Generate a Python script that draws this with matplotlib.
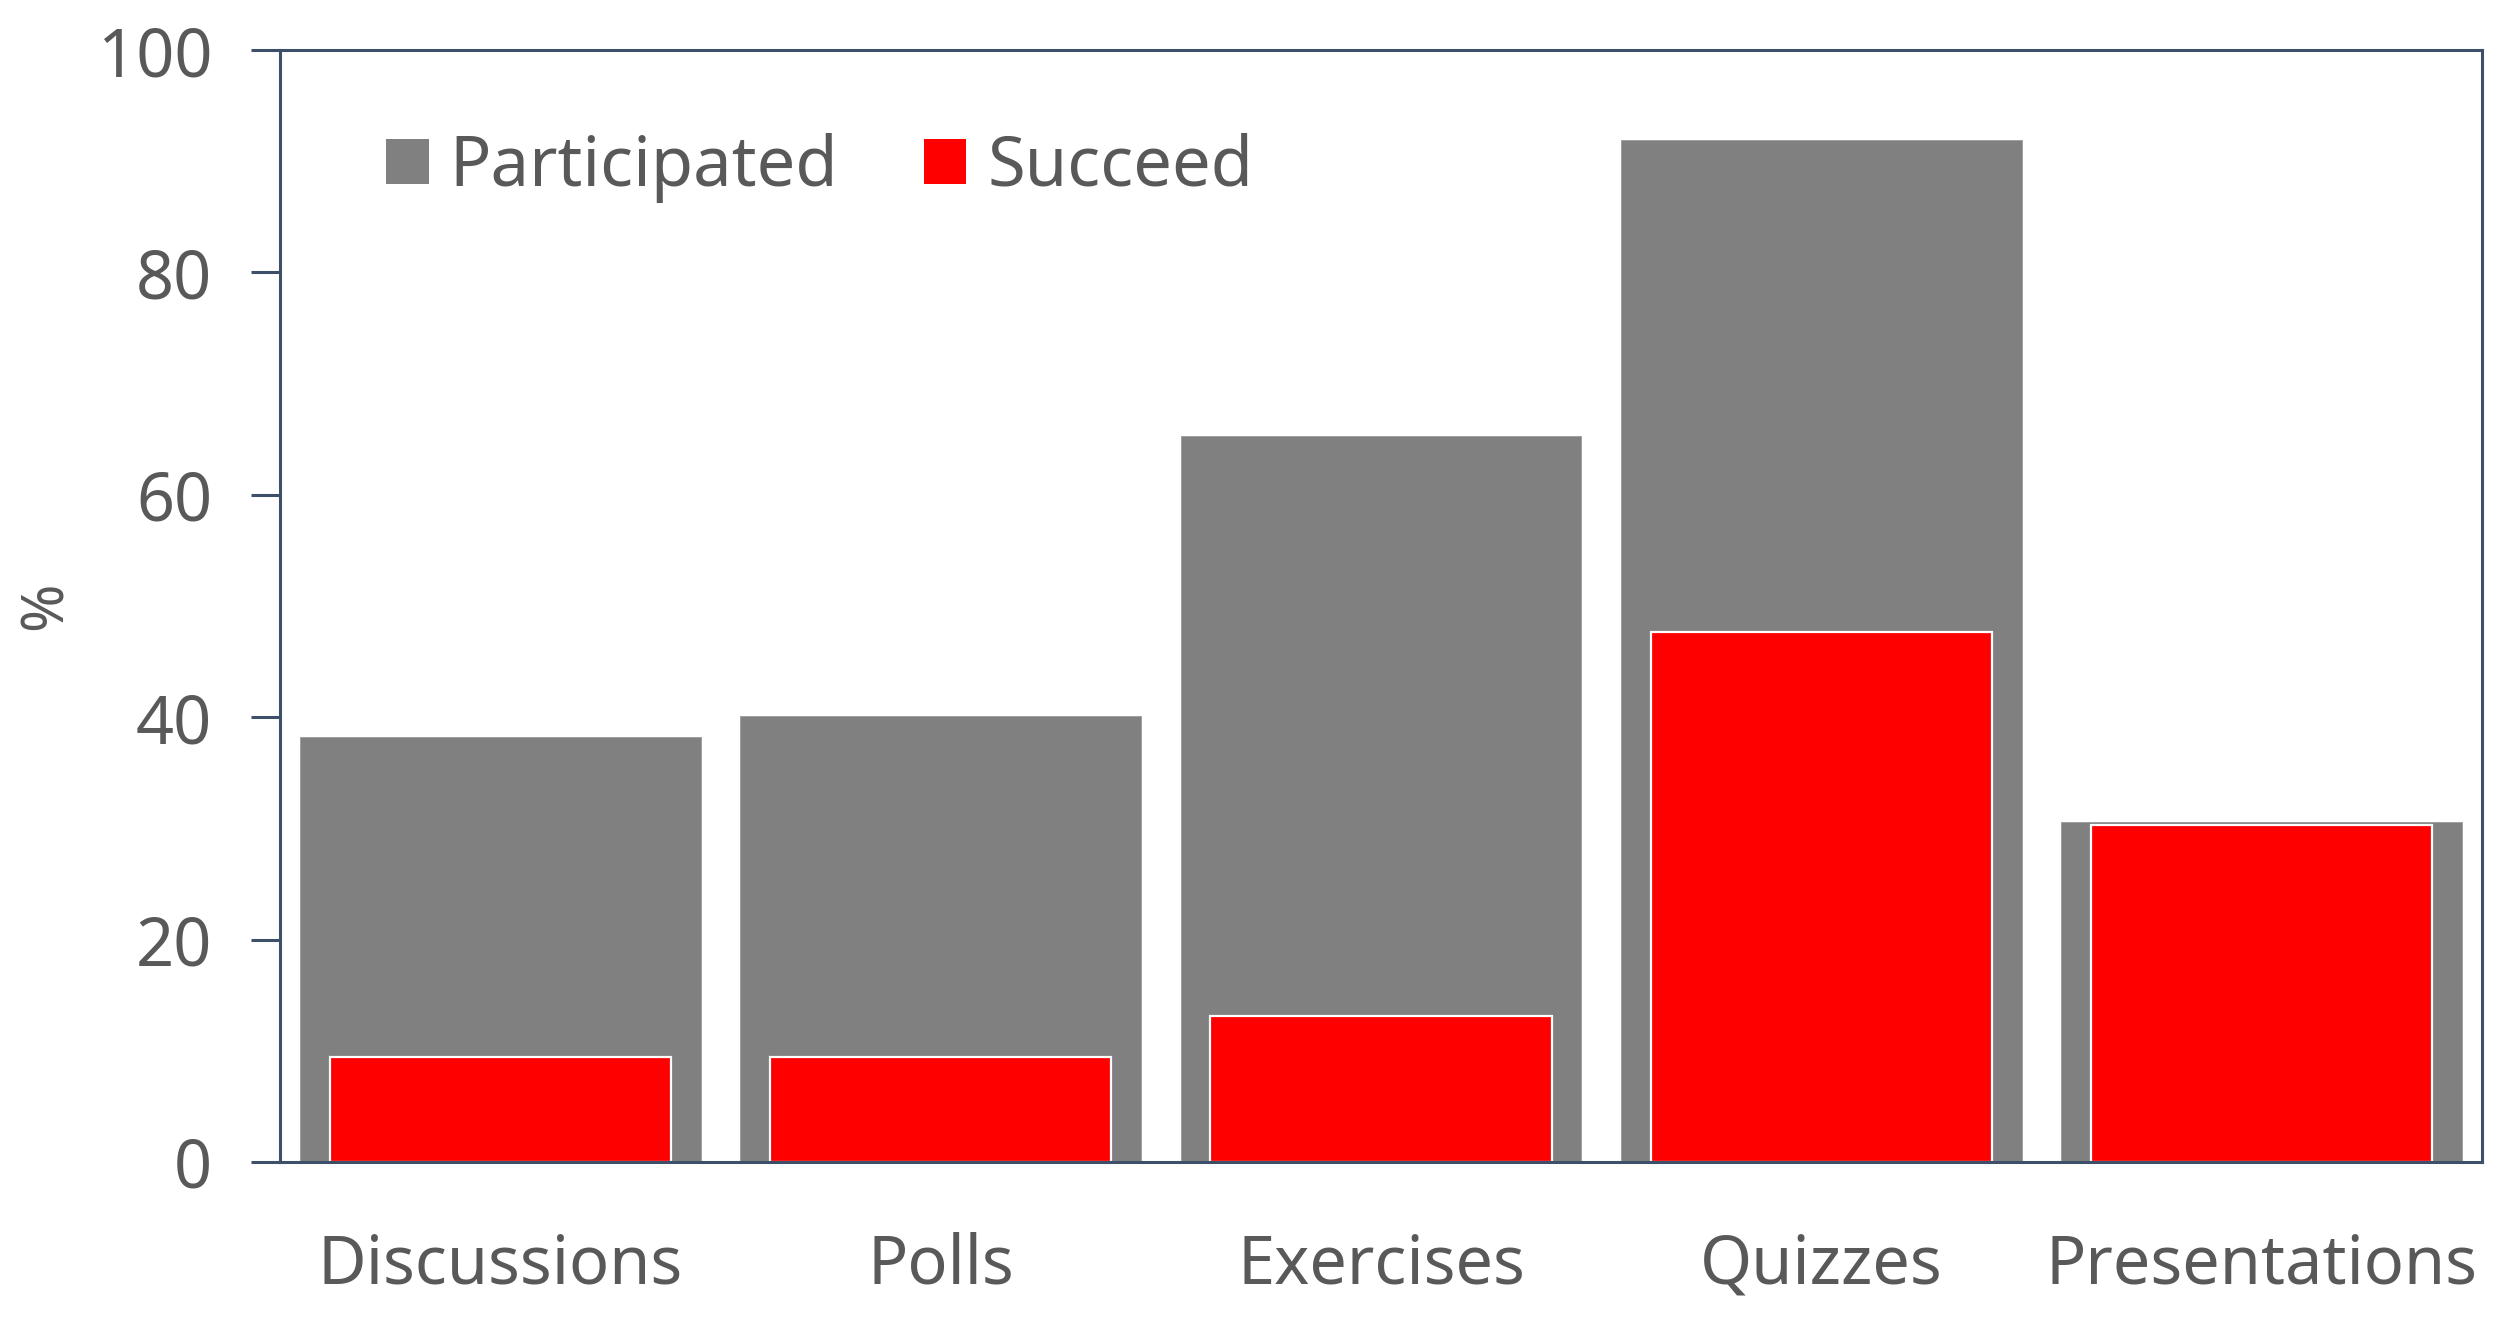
import matplotlib
matplotlib.use("Agg")
import matplotlib.pyplot as plt
import numpy as np

categories = ["Discussions", "Polls", "Exercises", "Quizzes", "Presentations"]
participated = [38.2, 40.1, 65.3, 91.9, 30.6]
succeed = [9.4, 9.4, 13.1, 47.7, 30.3]
yticks = [0, 20, 40, 60, 80, 100]

plt.rcParams['font.family'] = ['Noto Sans', 'DejaVu Sans']
text_color = '#595959'
spine_color = '#3E5069'

fig = plt.figure(figsize=(25.12, 13.17), dpi=100)
ax = fig.add_axes([0.1115, 0.1177, 0.8765, 0.8443])

x = np.arange(len(categories))
ax.bar(x, participated, width=0.91, color='#808080', edgecolor='#9a9a9a', linewidth=0.6,
       label='Participated', zorder=2)
ax.bar(x, succeed, width=0.775, color='#FF0000', edgecolor='white', linewidth=1.6,
       label='Succeed', zorder=3)

ax.set_xlim(-0.5, 4.5)
ax.set_ylim(0, 100)
ax.set_yticks(yticks)
ax.set_xticks(x)
ax.set_xticklabels(categories)

for s in ax.spines.values():
    s.set_color(spine_color)
    s.set_linewidth(2.2)
    s.set_zorder(4)

ax.tick_params(axis='y', direction='out', length=21, width=2.2, color=spine_color,
               labelsize=48, labelcolor=text_color, pad=28)
ax.tick_params(axis='x', length=0, labelsize=48, labelcolor=text_color, pad=50)

ax.set_ylabel('%', fontsize=42, color=text_color, labelpad=16)

leg = ax.legend(loc='center left', bbox_to_anchor=(0.02, 0.894), ncol=2, frameon=False,
                fontsize=49.5, handlelength=0.62, handleheight=0.62, handletextpad=0.3,
                columnspacing=1.25, labelcolor=text_color)
for h in leg.legend_handles:
    h.set_edgecolor('none')

fig.savefig('out.png', dpi=100)
